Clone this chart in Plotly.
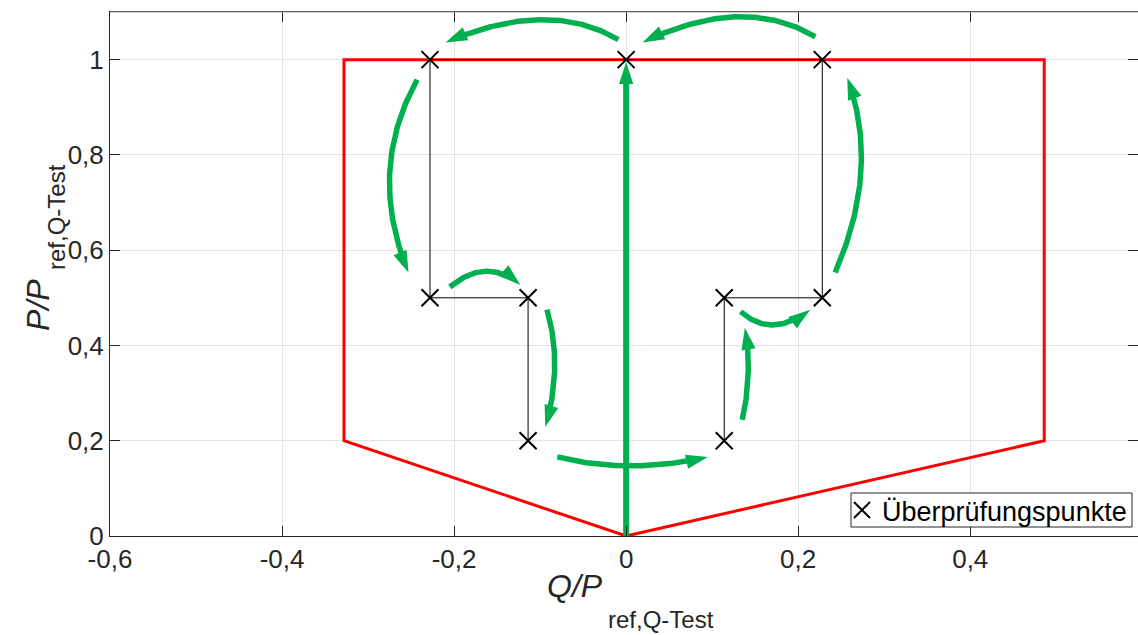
import numpy as np
import plotly.graph_objects as go

# ---------------- data ----------------
x_range = [-0.6, 0.595]
y_range = [0, 1.1]
x_ticks = [-0.6, -0.4, -0.2, 0, 0.2, 0.4]
x_ticktext = ["-0,6", "-0,4", "-0,2", "0", "0,2", "0,4"]
y_ticks = [0, 0.2, 0.4, 0.6, 0.8, 1]
y_ticktext = ["0", "0,2", "0,4", "0,6", "0,8", "1"]

# permitted operating region (red)
region_q = [0, -0.328, -0.328, 0.486, 0.486, 0]
region_p = [0, 0.2, 1.0, 1.0, 0.2, 0]

# thin black connection path
path_q = [-0.114, -0.114, -0.228, -0.228, 0.228, 0.228, 0.114, 0.114]
path_p = [0.2, 0.5, 0.5, 1.0, 1.0, 0.5, 0.5, 0.2]

# test points (Überprüfungspunkte)
test_q = [-0.228, 0.0, 0.228, -0.228, -0.114, 0.114, 0.228, -0.114, 0.114]
test_p = [1.0, 1.0, 1.0, 0.5, 0.5, 0.5, 0.5, 0.2, 0.2]

# curved green arrows: start, middle (t=0.5), end (tip)
arrow_start_q = [-0.009, 0.220, -0.243, -0.205, -0.092, -0.080, 0.135, 0.133, 0.243]
arrow_start_p = [1.042, 1.048, 0.958, 0.523, 0.475, 0.166, 0.244, 0.471, 0.553]
arrow_mid_q = [-0.100, 0.128, -0.275, -0.163, -0.083, 0.005, 0.142, 0.171, 0.273]
arrow_mid_p = [1.084, 1.090, 0.760, 0.556, 0.355, 0.147, 0.342, 0.443, 0.765]
arrow_end_q = [-0.210, 0.019, -0.253, -0.123, -0.094, 0.095, 0.138, 0.214, 0.257]
arrow_end_p = [1.036, 1.036, 0.553, 0.527, 0.229, 0.166, 0.437, 0.475, 0.962]

# straight green arrow (Q = 0)
straight_q = [0.0, 0.0]
straight_p = [0.0, 0.995]

GREEN = "#00b050"
RED = "#ff0000"
FONT = "Liberation Sans, Arial, sans-serif"
TXT = "#262626"

W, H = 1138, 635
ML, MR, MT, MB = 110, 0, 12, 99
PW, PH = W - ML - MR, H - MT - MB
SX = PW / (x_range[1] - x_range[0])   # px per unit
SY = PH / (y_range[1] - y_range[0])
HEAD = 23          # arrow marker size
HEAD_BACK = 14     # px the shaft stops before the tip


def px_x(px):
    return (px - ML) / PW


def px_y(py):
    return ((H - MB) - py) / PH


fig = go.Figure()

fig.add_trace(go.Scatter(x=region_q, y=region_p, mode="lines",
                         line=dict(color=RED, width=3), showlegend=False,
                         hoverinfo="skip"))

fig.add_trace(go.Scatter(x=path_q, y=path_p, mode="lines",
                         line=dict(color="black", width=1), showlegend=False,
                         hoverinfo="skip"))


def add_arrow(bq, bp, width):
    dx = np.diff(bq) * SX
    dy = np.diff(bp) * SY
    seg = np.hypot(dx, dy)
    remaining = np.concatenate([np.cumsum(seg[::-1])[::-1], [0.0]])
    keep = remaining >= HEAD_BACK
    fig.add_trace(go.Scatter(x=bq[keep], y=bp[keep], mode="lines",
                             line=dict(color=GREEN, width=width),
                             showlegend=False, hoverinfo="skip"))
    fig.add_trace(go.Scatter(
        x=[bq[-2], bq[-1]], y=[bp[-2], bp[-1]], mode="markers",
        marker=dict(symbol="arrow", size=[0, HEAD], color=GREEN, opacity=1,
                    angleref="previous", line=dict(width=0)),
        showlegend=False, hoverinfo="skip"))


t = np.linspace(0, 1, 300)
for sq, sp, mq, mp, eq, ep in zip(arrow_start_q, arrow_start_p, arrow_mid_q,
                                  arrow_mid_p, arrow_end_q, arrow_end_p):
    cq = 2 * mq - 0.5 * (sq + eq)
    cp = 2 * mp - 0.5 * (sp + ep)
    bq = (1 - t) ** 2 * sq + 2 * (1 - t) * t * cq + t ** 2 * eq
    bp = (1 - t) ** 2 * sp + 2 * (1 - t) * t * cp + t ** 2 * ep
    add_arrow(bq, bp, 5.5)

sl = np.linspace(0, 1, 300)
add_arrow(straight_q[0] + sl * (straight_q[1] - straight_q[0]),
          straight_p[0] + sl * (straight_p[1] - straight_p[0]), 6)

fig.add_trace(go.Scatter(
    x=test_q, y=test_p, mode="markers", name="Überprüfungspunkte",
    marker=dict(symbol="x-thin", size=17, color="black",
                line=dict(color="black", width=2)),
    showlegend=True, hoverinfo="skip"))

axis_common = dict(showgrid=True, gridcolor="#e3e3e3", gridwidth=1,
                   zeroline=False, showline=True, linecolor=TXT,
                   linewidth=1, mirror="ticks", ticks="inside", ticklen=10,
                   tickcolor=TXT, automargin=False,
                   tickfont=dict(family=FONT, size=26, color=TXT))

fig.update_layout(
    width=W, height=H,
    template="none",
    margin=dict(l=ML, r=MR, t=MT, b=MB),
    paper_bgcolor="white", plot_bgcolor="white",
    separators=",.",
    font=dict(family=FONT, size=26, color=TXT),
    showlegend=True,
    legend=dict(x=px_x(842), y=px_y(535), xanchor="left", yanchor="bottom",
                bgcolor="rgba(0,0,0,0)", borderwidth=0,
                font=dict(family=FONT, size=27, color="black"),
                itemwidth=30, tracegroupgap=0),
    xaxis=dict(range=x_range, tickvals=x_ticks, ticktext=x_ticktext,
               **axis_common),
    yaxis=dict(range=y_range, tickvals=y_ticks, ticktext=y_ticktext,
               **axis_common),
)

# legend frame
fig.add_shape(type="rect", xref="paper", yref="paper",
              x0=px_x(851), x1=px_x(1132), y0=px_y(527), y1=px_y(493),
              fillcolor="white", line=dict(color=TXT, width=1), layer="above")

# axis titles (main symbol + lowered subscript, MATLAB style)
fig.add_annotation(text="<i>Q/P</i>", xref="paper", yref="paper",
                   x=px_x(575), y=px_y(586), xanchor="center", yanchor="middle",
                   showarrow=False, font=dict(family=FONT, size=32, color=TXT))
fig.add_annotation(text="ref,Q-Test", xref="paper", yref="paper",
                   x=px_x(661), y=px_y(619), xanchor="center", yanchor="middle",
                   showarrow=False, font=dict(family=FONT, size=24, color=TXT))
fig.add_annotation(text="<i>P/P</i>", xref="paper", yref="paper",
                   x=px_x(38), y=px_y(305), xanchor="center", yanchor="middle",
                   textangle=-90, showarrow=False,
                   font=dict(family=FONT, size=32, color=TXT))
fig.add_annotation(text="ref,Q-Test", xref="paper", yref="paper",
                   x=px_x(57), y=px_y(217), xanchor="center", yanchor="middle",
                   textangle=-90, showarrow=False,
                   font=dict(family=FONT, size=24, color=TXT))

fig.add_shape(type="line", xref="paper", yref="paper", x0=0, x1=1, y0=1, y1=1,
              line=dict(color="#9a9a9a", width=1), layer="above")

fig.write_html("out.html")
